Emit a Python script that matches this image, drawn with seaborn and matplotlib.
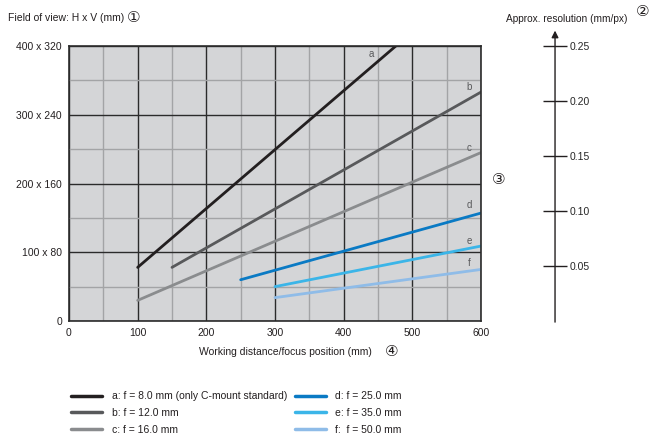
import matplotlib
matplotlib.use('Agg')
import matplotlib.pyplot as plt
import seaborn as sns
import pandas as pd
from matplotlib.ticker import MultipleLocator

# data (working distance mm, field of view H mm)
series = ['a', 'b', 'c', 'd', 'e', 'f']
x_start = [100, 150, 100, 250, 300, 300]
x_end = [476, 600, 600, 600, 600, 600]
h_start = [78, 78, 30, 60, 50, 34]
h_end = [400, 333, 245, 157, 109, 75]
legend_labels = ['a: f = 8.0 mm (only C-mount standard)', 'b: f = 12.0 mm', 'c: f = 16.0 mm',
                 'd: f = 25.0 mm', 'e: f = 35.0 mm', 'f:  f = 50.0 mm']
colors = ['#231f20', '#58595b', '#8a8c8e', '#0a7ac4', '#3bb5e8', '#8fbce8']
label_x = [440, 583, 582, 583, 583, 583]
label_y = [388, 340, 251, 168, 117, 84]

x_ticks = [0, 100, 200, 300, 400, 500, 600]
y_ticks = [0, 100, 200, 300, 400]
y_ticklabels = ['0', '100 x 80', '200 x 160', '300 x 240', '400 x 320']
res_ticks = [0.05, 0.10, 0.15, 0.20, 0.25]

sns.set_theme(style='white')
plt.rcParams['font.family'] = ['Liberation Sans', 'DejaVu Sans', 'Noto Sans CJK SC']
plt.rcParams['text.color'] = '#231f20'

rows = []
for s, x0, x1, y0, y1 in zip(series, x_start, x_end, h_start, h_end):
    rows.append({'series': s, 'wd': x0, 'fov': y0})
    rows.append({'series': s, 'wd': x1, 'fov': y1})
df = pd.DataFrame(rows)

fig = plt.figure(figsize=(6.52, 4.34), dpi=100)
ax = fig.add_axes([69 / 652, 1 - 321 / 434, 412 / 652, 275 / 434])
ax.set_facecolor('#d4d5d7')

sns.lineplot(data=df, x='wd', y='fov', hue='series', palette=dict(zip(series, colors)),
             linewidth=2, ax=ax, legend=False)

ax.set_xlim(0, 600)
ax.set_ylim(0, 400)
ax.set_xticks(x_ticks)
ax.set_yticks(y_ticks)
ax.set_yticklabels(y_ticklabels)
ax.xaxis.set_minor_locator(MultipleLocator(50))
ax.yaxis.set_minor_locator(MultipleLocator(50))
ax.grid(which='major', color='#2b2b2b', linewidth=1)
ax.grid(which='minor', color='#a3a4a6', linewidth=1)
ax.set_axisbelow(True)
for sp in ax.spines.values():
    sp.set_color('#2b2b2b')
    sp.set_linewidth(1.2)
ax.tick_params(axis='both', length=0, labelsize=7.5, colors='#231f20', pad=5)
ax.set_xlabel('')
ax.set_ylabel('')

for s, lx, ly, c in zip(series, label_x, label_y, colors):
    ax.text(lx, ly, s, fontsize=7, color='#58595b', ha='center', va='center')

circ = ['DejaVu Sans', 'Noto Sans CJK SC']
fig.text(8 / 652, 1 - 18 / 434, 'Field of view: H x V (mm)', fontsize=7.5, va='center')
fig.text(127 / 652, 1 - 17 / 434, '①', fontsize=11, va='center', family=circ)
fig.text(285 / 652, 1 - 352 / 434, 'Working distance/focus position (mm)', fontsize=7.5,
         ha='center', va='center')
fig.text(385 / 652, 1 - 352 / 434, '④', fontsize=11, va='center', family=circ)
fig.text(492 / 652, 1 - 180 / 434, '③', fontsize=11, va='center', family=circ)
fig.text(567 / 652, 1 - 19 / 434, 'Approx. resolution (mm/px)', fontsize=7.3, ha='center',
         va='center')
fig.text(636 / 652, 1 - 12 / 434, '②', fontsize=11, va='center', family=circ)

# resolution axis
ax2 = fig.add_axes([555 / 652, 1 - 321 / 434, 0.0001, 275 / 434])
ax2.set_ylim(0, 0.25)
ax2.set_xlim(0, 1)
ax2.set_xticks([])
ax2.set_yticks(res_ticks)
ax2.set_yticklabels([f'{v:.2f}' for v in res_ticks])
for name, sp in ax2.spines.items():
    sp.set_visible(False)
ax2.patch.set_alpha(0)
ax2.tick_params(axis='y', left=False, right=True, labelleft=False, labelright=True,
                direction='inout', length=17, width=1, color='#231f20', labelsize=7.5, pad=2)
ax2.annotate('', xy=(0.5, 0.264), xytext=(0.5, -0.001), xycoords=('axes fraction', 'data'),
             textcoords=('axes fraction', 'data'), annotation_clip=False,
             arrowprops=dict(arrowstyle='-|>', color='#231f20', lw=1, mutation_scale=10,
                             shrinkA=0, shrinkB=0))

handles = [plt.Line2D([], [], color=c, linewidth=2.5) for c in colors]
fig.legend(handles, legend_labels, ncol=2, loc='upper left',
           bbox_to_anchor=(66 / 652, 1 - 386 / 434), frameon=False, fontsize=7.5,
           handlelength=3, handletextpad=0.9, columnspacing=0.7, labelspacing=0.66,
           borderpad=0)

fig.savefig('out.png', dpi=100)
